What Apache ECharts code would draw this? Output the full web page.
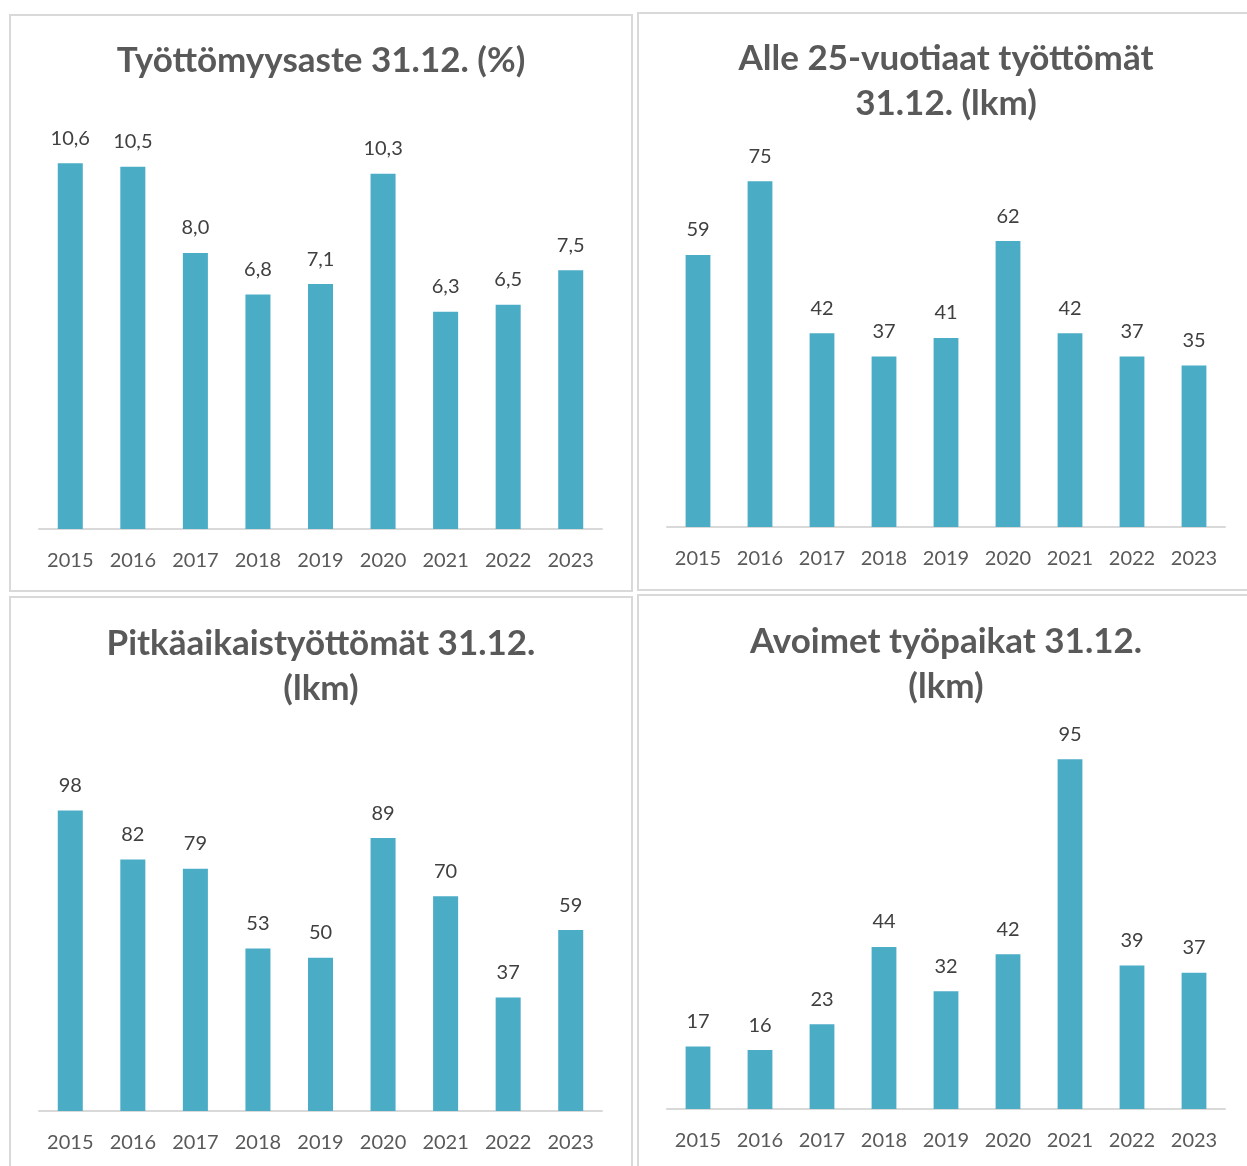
<!DOCTYPE html>
<html><head><meta charset="utf-8">
<script src="https://cdn.jsdelivr.net/npm/echarts@6/dist/echarts.min.js"></script>
<style>html,body{margin:0;padding:0;background:#fff;}#c{width:1247px;height:1166px;}</style>
</head><body><div id="c"></div>
<script>
const years = ['2015','2016','2017','2018','2019','2020','2021','2022','2023'];
const unemploymentRate = [10.6, 10.5, 8.0, 6.8, 7.1, 10.3, 6.3, 6.5, 7.5];
const youthUnemployed = [59, 75, 42, 37, 41, 62, 42, 37, 35];
const longTermUnemployed = [98, 82, 79, 53, 50, 89, 70, 37, 59];
const openVacancies = [17, 16, 23, 44, 32, 42, 95, 39, 37];
const titles = ['Työttömyysaste 31.12. (%)', 'Alle 25-vuotiaat työttömät\n31.12. (lkm)', 'Pitkäaikaistyöttömät 31.12.\n(lkm)', 'Avoimet työpaikat 31.12.\n(lkm)'];

const FONT = 'Lato';
const BAR = '#4bacc6';
const panels = [
  {data: unemploymentRate, dec: true, max: 12, grid: {left: 39, width: 563, top: 115, height: 414}, title: {x: 321, y: 38}},
  {data: youthUnemployed, dec: false, max: 90, grid: {left: 667, width: 558, top: 112, height: 415}, title: {x: 946, y: 36}},
  {data: longTermUnemployed, dec: false, max: 120, grid: {left: 39, width: 563, top: 743, height: 368}, title: {x: 321, y: 621}},
  {data: openVacancies, dec: false, max: 110, grid: {left: 667, width: 558, top: 704, height: 405}, title: {x: 946, y: 619}}
];

const chart = echarts.init(document.getElementById('c'), null, {renderer: 'canvas'});
const option = {
  animation: false,
  backgroundColor: '#fff',
  title: panels.map((p, i) => ({
    text: titles[i], left: p.title.x, top: p.title.y, textAlign: 'center', padding: 0,
    textStyle: {fontFamily: FONT, fontWeight: 'bold', fontSize: 35, color: '#595959', lineHeight: 45}
  })),
  graphic: [
    {type: 'rect', shape: {x: 10, y: 15, width: 622, height: 576}, style: {fill: 'none', stroke: '#d9d9d9', lineWidth: 2}, z: -1},
    {type: 'rect', shape: {x: 638, y: 13, width: 640, height: 577}, style: {fill: 'none', stroke: '#d9d9d9', lineWidth: 2}, z: -1},
    {type: 'rect', shape: {x: 10, y: 597, width: 622, height: 640}, style: {fill: 'none', stroke: '#d9d9d9', lineWidth: 2}, z: -1},
    {type: 'rect', shape: {x: 638, y: 595, width: 640, height: 640}, style: {fill: 'none', stroke: '#d9d9d9', lineWidth: 2}, z: -1}
  ],
  grid: panels.map(p => Object.assign({containLabel: false}, p.grid)),
  xAxis: panels.map((p, i) => ({
    type: 'category', gridIndex: i, data: years,
    axisLine: {lineStyle: {color: '#d9d9d9', width: 2}},
    axisTick: {show: false},
    axisLabel: {fontFamily: FONT, fontSize: 20, color: '#595959', margin: 22, interval: 0}
  })),
  yAxis: panels.map((p, i) => ({
    type: 'value', gridIndex: i, min: 0, max: p.max, show: false, splitLine: {show: false}
  })),
  series: panels.map((p, i) => ({
    type: 'bar', xAxisIndex: i, yAxisIndex: i, data: p.data, barWidth: '40%',
    itemStyle: {color: BAR},
    label: {
      show: true, position: 'top', distance: 15, fontFamily: FONT, fontSize: 20, color: '#404040',
      formatter: d => p.dec ? d.value.toFixed(1).replace('.', ',') : String(d.value)
    }
  }))
};
chart.setOption(option);
</script></body></html>
